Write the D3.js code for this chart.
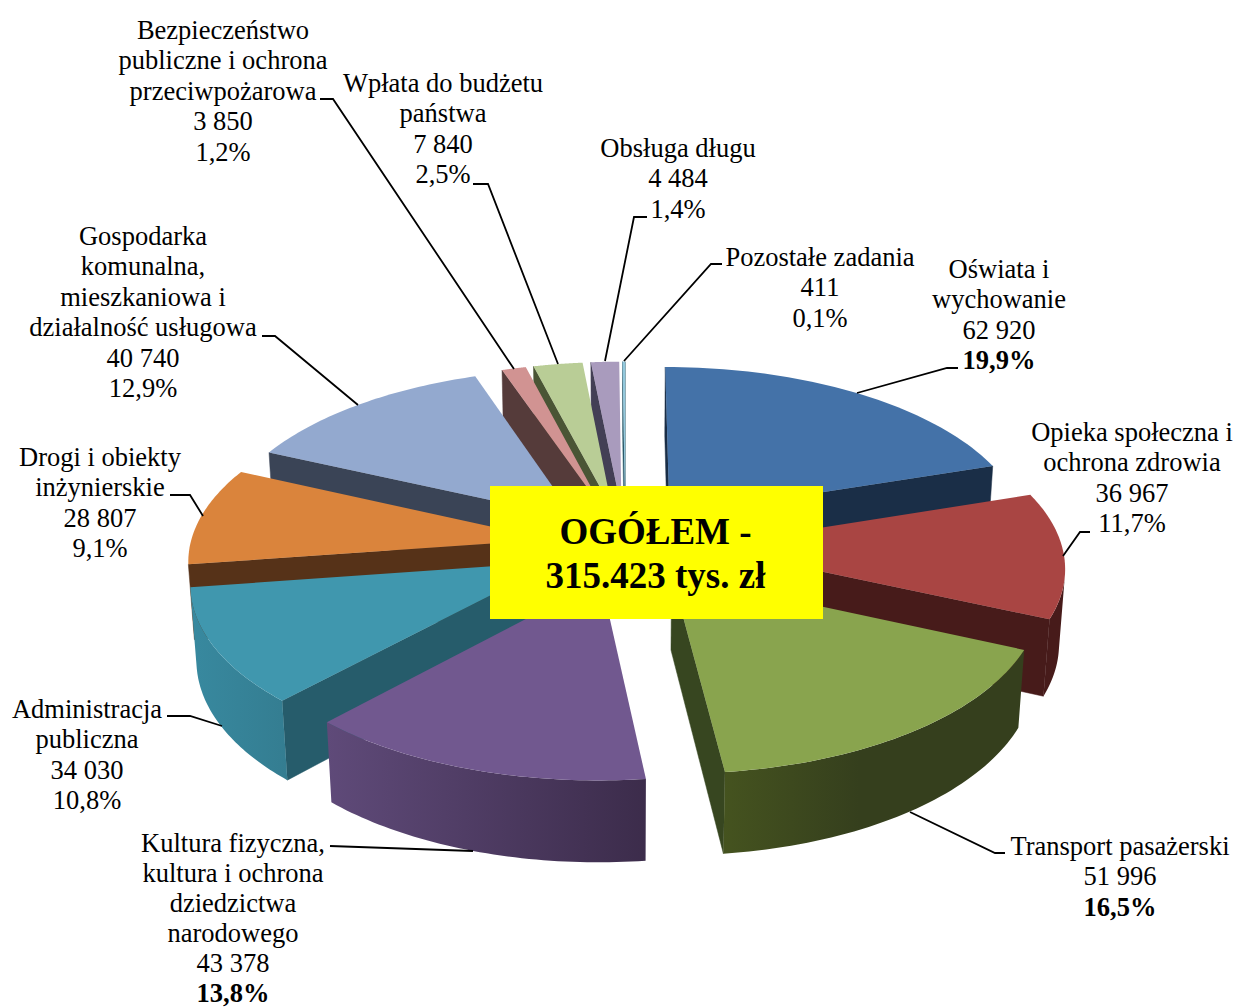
<!DOCTYPE html>
<html><head><meta charset="utf-8">
<script src="https://cdn.jsdelivr.net/npm/d3@7"></script>
<style>html,body{margin:0;background:#fff}svg{display:block}text{font-family:"Liberation Serif",serif;fill:#000}</style>
</head><body><svg id="c" width="1237" height="1008"></svg>
<script>
const categories=["Oświata i wychowanie","Opieka społeczna i ochrona zdrowia","Transport pasażerski","Kultura fizyczna, kultura i ochrona dziedzictwa narodowego","Administracja publiczna","Drogi i obiekty inżynierskie","Gospodarka komunalna, mieszkaniowa i działalność usługowa","Bezpieczeństwo publiczne i ochrona przeciwpożarowa","Wpłata do budżetu państwa","Obsługa długu","Pozostałe zadania"];
const values=[62920,36967,51996,43378,34030,28807,40740,3850,7840,4484,411];
const topColors=["#4472a8","#a94543","#89a44e","#71588f","#4097ae","#da843c","#93a9cf","#d19392","#b9cd96","#a99bbd","#92c8dc"];
const sideColors=["#1a2e47","#471b1a","#374620","#3f2e4e","#265c6b","#563218","#3a4456","#553b3a","#4a5535","#433f55","#2d5a6a"];
const wallFrom=["#1a2e47","#471b1a","#45531f","#5f4a79","#38899f","#563218","#3a4456","#553b3a","#4a5535","#433f55","#2d5a6a"];
const wallTo=["#1a2e47","#471b1a","#353f1d","#3c2c4b","#347d91","#563218","#3a4456","#553b3a","#4a5535","#433f55","#2d5a6a"];
const wallEnd=[1,1,.45,1,1,1,1,1,1,1,1];
const labelLines=[
 ["Oświata i","wychowanie","62 920","19,9%"],
 ["Opieka społeczna i","ochrona zdrowia","36 967","11,7%"],
 ["Transport pasażerski","51 996","16,5%"],
 ["Kultura fizyczna,","kultura i ochrona","dziedzictwa","narodowego","43 378","13,8%"],
 ["Administracja","publiczna","34 030","10,8%"],
 ["Drogi i obiekty","inżynierskie","28 807","9,1%"],
 ["Gospodarka","komunalna,","mieszkaniowa i","działalność usługowa","40 740","12,9%"],
 ["Bezpieczeństwo","publiczne i ochrona","przeciwpożarowa","3 850","1,2%"],
 ["Wpłata do budżetu","państwa","7 840","2,5%"],
 ["Obsługa długu","4 484","1,4%"],
 ["Pozostałe zadania","411","0,1%"]];
const boldLast=[true,false,true,true,false,false,false,false,false,false,false];
const labelX=[999,1132,1120,233,87,100,143,223,443,678,820];
const labelTop=[277.6,440.6,854.6,852.4,717.6,465.6,244.6,38.6,91.6,156.6,265.6];
const labelStep=[30.5,30.5,30.5,30,30.5,30.5,30.5,30.5,30.5,30.5,30.5];
const leaders=[
 [[958,368],[947,368],[857,393]],
 [[1090,532],[1080,532],[1063,556]],
 [[1005,853],[995,853],[910,812]],
 [[330,846],[473,851]],
 [[167,716],[190,716],[222,726]],
 [[170,495],[190,495],[203,516]],
 [[262,336],[275,336],[358,405]],
 [[320,99],[333,99],[514,369]],
 [[473,184],[488,184],[558,364]],
 [[647,217],[634,217],[605,361]],
 [[722,264],[711,264],[624,361]]];

const svg=d3.select("#c");
const F=359.6,cx=625.4,cy=544.6,tilt=28.33*Math.PI/180,D=8.147,H=0.239,EX=0.213;
const sx=d3.scaleLinear().domain([0,1]).range([cx,cx+F]);
const sy=d3.scaleLinear().domain([0,1]).range([cy,cy-F]);
function P(X,Y,Z){
  const yc=Y*Math.sin(tilt)+Z*Math.cos(tilt), zc=Y*Math.cos(tilt)-Z*Math.sin(tilt), s=D/(D+zc);
  return [sx(X*s),sy(yc*s)];
}
const area2=pts=>d3.polygonArea(pts);
const line=d3.line().curve(d3.curveLinear);
const arcs=d3.pie().sort(null)(values);
const defs=svg.append("defs");
const order=arcs.map((a,i)=>({a,i,mid:(a.startAngle+a.endAngle)/2})).sort((p,q)=>Math.cos(q.mid)-Math.cos(p.mid));
const gPie=svg.append("g");
order.forEach(({a,i,mid})=>{
  const ox=EX*Math.sin(mid),oy=EX*Math.cos(mid),n=48;
  const ang=d3.range(n+1).map(k=>a.startAngle+(a.endAngle-a.startAngle)*k/n);
  const T=(r,t,z)=>P(ox+r*Math.sin(t),oy+r*Math.cos(t),z);
  const g=gPie.append("g");
  const apexT=T(0,0,0),apexB=T(0,0,-H);
  const s0=T(1,a.startAngle,0),s0b=T(1,a.startAngle,-H),e0=T(1,a.endAngle,0),e0b=T(1,a.endAngle,-H);
  [[apexT,s0,s0b,apexB],[e0,apexT,apexB,e0b]].forEach(q=>{
    if(area2(q)>0) g.append("path").attr("d",line(q)+"Z").attr("fill",sideColors[i]).attr("stroke",sideColors[i]).attr("stroke-width",.5);
  });
  const vis=[];
  for(let k=0;k<n;k++){
    const q=[T(1,ang[k],0),T(1,ang[k+1],0),T(1,ang[k+1],-H),T(1,ang[k],-H)];
    if(area2(q)>0){ if(!vis.length||vis[vis.length-1]!==ang[k]) vis.push(ang[k]); vis.push(ang[k+1]); }
  }
  if(vis.length){
    const tops=vis.map(t=>T(1,t,0)),bots=vis.map(t=>T(1,t,-H)).reverse();
    const xs=tops.concat(bots).map(p=>p[0]);
    const id="w"+i;
    const gr=defs.append("linearGradient").attr("id",id).attr("gradientUnits","userSpaceOnUse")
      .attr("x1",d3.min(xs)).attr("x2",d3.max(xs)).attr("y1",0).attr("y2",0);
    gr.append("stop").attr("offset",0).attr("stop-color",wallFrom[i]);
    gr.append("stop").attr("offset",wallEnd[i]).attr("stop-color",wallTo[i]);
    g.append("path").attr("d",line(tops.concat(bots))+"Z").attr("fill",`url(#${id})`);
  }
  const topPts=[apexT].concat(ang.map(t=>T(1,t,0)));
  g.append("path").attr("d",line(topPts)+"Z").attr("fill",topColors[i]);
});
svg.append("g").selectAll("path").data(leaders).join("path")
 .attr("d",d=>line(d)).attr("fill","none").attr("stroke","#000").attr("stroke-width",1.8);
const gL=svg.append("g").attr("font-size",26.5).attr("text-anchor","middle");
labelLines.forEach((ls,i)=>{
  ls.forEach((t,j)=>{
    gL.append("text").attr("x",labelX[i]).attr("y",labelTop[i]+j*labelStep[i])
      .attr("font-weight",(boldLast[i]&&j==ls.length-1)?"bold":null).text(t);
  });
});
svg.append("rect").attr("x",490).attr("y",486).attr("width",333).attr("height",133).attr("fill","#ffff00");
const titleLines=["OGÓŁEM -","315.423 tys. zł"];
svg.append("g").attr("font-size",37).attr("font-weight","bold").attr("text-anchor","middle")
 .selectAll("text").data(titleLines).join("text").attr("x",655.5).attr("y",(d,i)=>544+i*43.5).text(d=>d);
</script></body></html>
